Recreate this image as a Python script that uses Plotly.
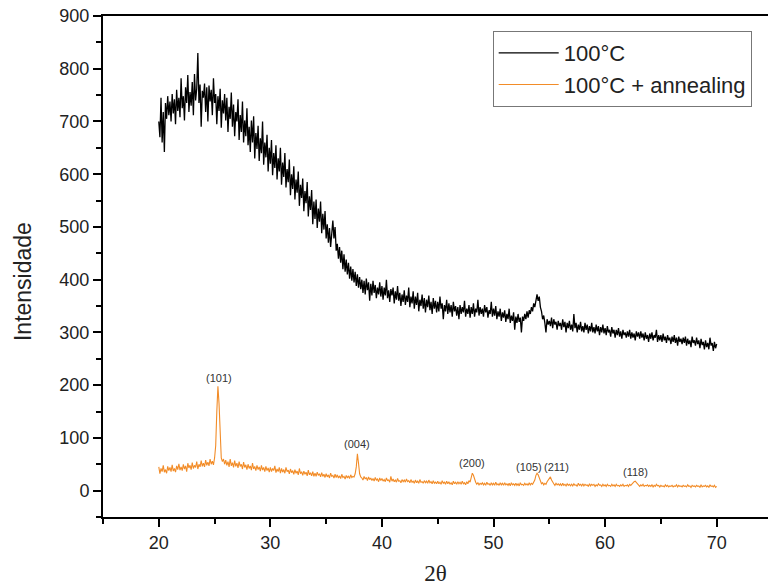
import numpy as np
import plotly.graph_objects as go

# 2-theta sampling: 20.0 .. 70.0 step 0.1
x_start, x_end = 20.0, 70.0

black_100C = [
700,670,745,660,718,642,735,705,748,712,
738,700,752,715,742,695,760,720,745,708,
782,725,748,702,765,735,788,718,756,730,
775,712,790,740,762,830,735,770,690,758,
745,772,718,765,700,768,738,760,712,782,
735,752,695,748,720,762,688,740,715,752,
702,745,680,728,705,755,690,732,672,718,
700,742,665,712,680,738,660,702,672,725,
655,690,642,702,660,710,630,678,648,692,
625,668,640,700,618,660,632,675,605,650,
620,665,598,640,612,655,590,630,605,650,
580,622,595,640,575,610,585,628,560,600,
572,615,552,590,565,605,540,580,555,592,
530,568,545,585,520,558,532,570,505,548,
515,552,498,535,510,548,488,525,495,530,
478,505,470,498,462,490,512,478,500,455,
468,440,462,432,455,420,448,415,438,410,
432,402,425,398,420,395,415,388,410,385,
405,382,400,375,398,372,402,380,395,360,
392,370,398,375,390,365,385,372,395,368,
388,362,385,370,400,365,380,358,382,370,
385,355,378,362,388,360,375,350,372,358,
380,352,370,358,385,348,368,355,378,345,
368,352,375,340,362,350,372,345,365,338,
362,348,370,342,358,335,365,345,360,338,
358,340,368,345,355,325,352,340,362,335,
355,338,352,330,358,340,350,332,348,325,
352,335,348,338,360,330,345,335,352,328,
348,335,355,330,345,338,362,332,348,335,
345,330,352,338,348,328,342,335,358,330,
345,332,350,325,340,330,345,322,338,328,
342,320,335,325,345,318,332,322,338,305,
330,318,335,320,328,300,330,322,335,325,
340,328,342,335,348,340,355,348,365,372,
360,368,348,340,325,332,318,300,325,315,
322,312,328,308,325,315,320,305,322,312,
318,305,325,310,320,300,318,308,322,305,
315,302,335,308,318,300,315,305,320,302,
312,300,318,305,315,298,312,302,318,300,
310,298,315,302,312,295,310,300,315,298,
308,295,312,300,305,292,310,298,305,290,
305,295,308,292,302,288,305,295,300,290,
302,292,305,288,300,290,298,285,302,292,
300,288,302,290,298,285,300,288,295,282,
298,288,300,285,295,290,305,282,295,285,
295,282,298,285,292,280,295,285,290,278,
292,282,295,280,290,275,292,282,288,278,
290,280,292,275,288,278,285,272,292,280,
285,275,290,278,285,270,288,276,282,268,
285,272,280,268,290,275,280,265,282,270,
278,
]

orange_annealed = [
45,32,42,36,48,35,40,33,46,38,
44,36,49,37,42,35,47,40,51,39,
45,38,50,41,47,36,52,43,48,40,
53,42,48,44,55,41,50,45,57,46,
52,45,58,48,54,47,60,50,56,49,
62,85,150,198,165,95,62,55,60,50,
58,48,55,45,60,47,53,44,57,46,
52,43,55,46,50,41,54,44,49,40,
50,42,47,39,52,41,46,38,48,40,
45,37,48,39,44,36,46,38,43,35,
44,36,42,38,47,34,41,36,44,33,
42,35,40,33,44,36,39,32,41,34,
38,31,40,33,37,30,42,32,36,29,
37,31,35,28,39,30,34,28,36,27,
33,27,35,29,32,26,34,27,31,25,
32,26,30,24,33,27,29,24,31,25,
30,24,28,23,31,25,27,22,29,24,
28,23,30,25,27,26,32,45,70,52,
32,26,24,20,27,22,25,19,26,21,
24,19,23,18,25,20,22,17,24,19,
23,18,21,17,24,19,20,16,27,18,
22,17,20,16,23,18,19,15,21,17,
20,16,22,17,19,15,21,16,18,14,
20,15,18,14,21,16,17,14,19,15,
18,14,20,15,17,13,19,14,16,13,
18,13,16,12,19,14,16,12,18,13,
17,12,15,11,18,13,16,12,17,13,
16,12,18,13,15,11,17,13,19,16,
26,33,29,20,16,12,15,11,14,12,
15,11,14,10,16,12,13,10,15,11,
14,10,16,11,13,10,15,11,14,10,
15,11,13,10,14,9,15,11,13,10,
14,10,13,9,15,11,12,10,14,11,
13,10,15,11,14,12,16,20,29,33,
30,24,17,13,15,11,14,12,17,21,
25,26,20,15,13,10,14,11,13,10,
13,9,14,10,12,9,13,10,12,9,
12,9,13,10,11,8,14,10,12,9,
13,9,12,10,11,8,13,9,12,10,
12,8,11,9,13,10,11,8,12,9,
11,8,12,9,10,8,12,9,11,8,
12,9,10,8,11,9,12,8,10,9,
11,8,12,10,13,15,17,18,15,12,
10,8,11,9,12,8,10,9,11,8,
10,8,11,7,10,8,12,9,10,7,
10,8,9,7,11,8,10,7,9,8,
10,7,9,8,11,7,10,8,9,7,
10,8,9,7,11,8,9,6,10,8,
9,7,10,8,9,6,11,7,9,8,
10,7,9,6,11,8,9,7,10,6,
8,
]

peak_labels = ["(101)", "(004)", "(200)", "(105)", "(211)", "(118)"]
peak_label_x = [25.4, 37.8, 48.1, 53.2, 55.6, 62.7]
peak_label_y = [214, 88, 53, 44, 44, 36]

x_black = np.linspace(x_start, x_end, len(black_100C))
x_orange = np.linspace(x_start, x_end, len(orange_annealed))

fig = go.Figure()
fig.add_trace(go.Scatter(x=x_black, y=black_100C, mode="lines", name="100°C",
                         line=dict(color="black", width=1.3)))
fig.add_trace(go.Scatter(x=x_orange, y=orange_annealed, mode="lines", name="100°C + annealing",
                         line=dict(color="#F28C28", width=1.1)))

for t, px, py in zip(peak_labels, peak_label_x, peak_label_y):
    fig.add_annotation(x=px, y=py, text=t, showarrow=False,
                       font=dict(family="Liberation Sans, Arial", size=11, color="#333333"))

# y-axis title placed as rotated annotation
fig.add_annotation(xref="paper", yref="paper", x=-0.1203, y=0.469, text="Intensidade",
                   textangle=-90, showarrow=False, xanchor="center", yanchor="middle",
                   font=dict(family="Liberation Sans, Arial", size=23, color="#222222"))

axis_font = dict(family="Liberation Sans, Arial", size=18, color="#222222")

fig.update_layout(
    width=768, height=587,
    margin=dict(l=103, r=0, t=16, b=70),
    paper_bgcolor="white", plot_bgcolor="white",
    showlegend=True,
    legend=dict(x=0.586, y=0.97, xanchor="left", yanchor="top",
                bordercolor="#777777", borderwidth=1, bgcolor="white",
                font=dict(family="Liberation Sans, Arial", size=22, color="#222222"),
                tracegroupgap=0, itemwidth=60),
    xaxis=dict(range=[15, 74.6], tick0=0, dtick=10, ticks="outside", ticklen=8, tickwidth=2,
               tickcolor="black", showline=True, linecolor="black", linewidth=2, mirror=True,
               showgrid=False, zeroline=False, tickfont=axis_font,
               minor=dict(dtick=5, ticks="outside", ticklen=5, tickwidth=2, tickcolor="black", showgrid=False),
               title=dict(text="2θ", font=dict(family="Liberation Serif, Times New Roman", size=23, color="#222222"),
                          standoff=13)),
    yaxis=dict(range=[-50, 900], tick0=0, dtick=100, ticks="outside", ticklen=8, tickwidth=2,
               tickcolor="black", showline=True, linecolor="black", linewidth=2, mirror=False,
               showgrid=False, zeroline=False, tickfont=axis_font,
               minor=dict(dtick=50, ticks="outside", ticklen=5, tickwidth=2, tickcolor="black", showgrid=False)),
)

fig.write_html("out.html")
